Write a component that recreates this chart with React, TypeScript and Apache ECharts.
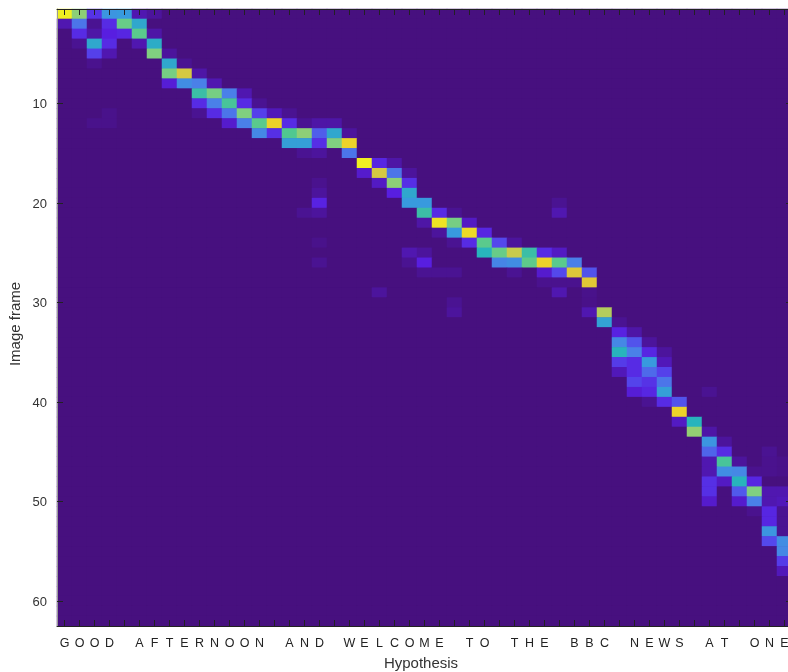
import React, { useEffect, useRef } from "react";
import * as echarts from "echarts";

const hypothesis = "GOOD AFTERNOON AND WELCOME TO THE BBC NEWS AT ONE".split("");
const frames = Array.from({ length: 62 }, (_, i) => String(i + 1));
const labelledFrames = ["10", "20", "30", "40", "50", "60"];

// [frame, first column, values from that column onwards]
const attentionRuns: [number, number, number[]][] = [
  [1, 0, [1.0, 0.72, 0.15, 0.38, 0.4, 0.05, 0.03]],
  [2, 0, [0.05, 0.28, 0.02, 0.13, 0.65, 0.45]],
  [3, 1, [0.13, 0.04, 0.1, 0.12, 0.62, 0.04]],
  [4, 1, [0.02, 0.45, 0.13, 0, 0.05, 0.47]],
  [5, 2, [0.18, 0.05, 0, 0, 0.7, 0.03]],
  [6, 2, [0.015, 0, 0, 0, 0, 0.45, 0.02]],
  [7, 7, [0.68, 0.85, 0.04]],
  [8, 7, [0.09, 0.35, 0.3, 0.05]],
  [9, 9, [0.55, 0.68, 0.3, 0.05]],
  [10, 9, [0.13, 0.3, 0.58, 0.13, 0.02]],
  [11, 3, [0.012, 0, 0, 0, 0, 0, 0.02, 0.13, 0.28, 0.7, 0.18, 0.06, 0.02]],
  [12, 2, [0.012, 0.012, 0, 0, 0, 0, 0, 0, 0, 0.08, 0.3, 0.62, 0.93, 0.13, 0.02, 0.04, 0.04]],
  [13, 13, [0.33, 0.14, 0.6, 0.72, 0.24, 0.45, 0.03]],
  [14, 15, [0.42, 0.42, 0.14, 0.7, 0.93]],
  [15, 16, [0.02, 0.03, 0, 0.28]],
  [16, 20, [1.0, 0.12, 0.04]],
  [17, 20, [0.08, 0.85, 0.28, 0.03]],
  [18, 17, [0.015, 0, 0, 0, 0.07, 0.72, 0.14]],
  [19, 17, [0.03, 0, 0, 0, 0, 0.1, 0.45]],
  [20, 17, [0.11, 0, 0, 0, 0, 0, 0.4, 0.4]],
  [20, 33, [0.02]],
  [21, 16, [0.02, 0.03, 0, 0, 0, 0, 0, 0, 0.55, 0.13, 0.02]],
  [21, 33, [0.05]],
  [22, 24, [0.04, 0.97, 0.68, 0.07]],
  [23, 25, [0.03, 0.4, 0.95, 0.12]],
  [24, 17, [0.012]],
  [24, 26, [0.02, 0.13, 0.62, 0.2, 0.03]],
  [25, 23, [0.05, 0.03, 0, 0, 0, 0.5, 0.65, 0.82, 0.55, 0.13, 0.07]],
  [26, 17, [0.02]],
  [26, 23, [0.02, 0.1, 0, 0, 0, 0, 0.32, 0.35, 0.63, 0.93, 0.62, 0.3]],
  [27, 24, [0.02, 0.02, 0.02, 0, 0, 0, 0.02, 0, 0.08, 0.2, 0.87, 0.22]],
  [28, 32, [0.015, 0.015, 0.015, 0.88]],
  [29, 21, [0.03]],
  [29, 33, [0.05, 0, 0.012]],
  [30, 26, [0.02]],
  [30, 35, [0.01]],
  [31, 26, [0.03]],
  [31, 35, [0.05, 0.78]],
  [32, 36, [0.43, 0.02]],
  [33, 37, [0.11, 0.04]],
  [34, 37, [0.33, 0.22, 0.03]],
  [35, 37, [0.5, 0.3, 0.12, 0.03]],
  [36, 37, [0.17, 0.13, 0.4, 0.06]],
  [37, 37, [0.06, 0.13, 0.26, 0.18]],
  [38, 38, [0.19, 0.15, 0.28]],
  [39, 38, [0.09, 0.12, 0.42, 0, 0, 0.02]],
  [40, 39, [0.02, 0.13, 0.22]],
  [41, 41, [0.93]],
  [42, 41, [0.07, 0.5]],
  [43, 42, [0.73, 0.04]],
  [44, 43, [0.38, 0.03]],
  [45, 43, [0.25, 0.13, 0, 0, 0.02]],
  [46, 43, [0.05, 0.58, 0.03, 0, 0.015, 0.01]],
  [47, 43, [0.05, 0.35, 0.33, 0.015, 0.015, 0.01]],
  [48, 43, [0.14, 0.07, 0.5, 0.12]],
  [49, 43, [0.14, 0, 0.23, 0.7, 0.05, 0.05]],
  [50, 43, [0.08, 0, 0.08, 0.3, 0.05, 0.06]],
  [51, 46, [0.015, 0.12, 0.02]],
  [52, 47, [0.12, 0.02]],
  [53, 47, [0.38, 0.02]],
  [54, 47, [0.2, 0.35]],
  [55, 48, [0.33]],
  [56, 48, [0.17]],
  [57, 48, [0.06]],
];

const colourStops = [
  "#47107f", "#581ee0", "#5448ec", "#4a80e8", "#389ade", "#28b4bc",
  "#50c890", "#80d080", "#c0cc54", "#eac62e", "#f0f020",
];

function buildCells(): [number, number, number][] {
  const grid = frames.map(() => hypothesis.map(() => 0));
  attentionRuns.forEach(([frame, col, vals]) => {
    vals.forEach((v, k) => {
      if (v > 0) grid[frame - 1][col + k] = v;
    });
  });
  const cells: [number, number, number][] = [];
  grid.forEach((row, r) => row.forEach((v, c) => cells.push([c, r, v])));
  return cells;
}

export default function App() {
  const ref = useRef<HTMLDivElement>(null);
  useEffect(() => {
    const chart = echarts.init(ref.current!, undefined, { renderer: "svg" });
    const font = "'Liberation Sans', Arial, sans-serif";
    const isLabelled = (_: number, v: string) => labelledFrames.includes(v);
    const tick = { inside: true, alignWithLabel: true, length: 6, lineStyle: { color: "#222", width: 1 } };
    chart.setOption({
      animation: false,
      backgroundColor: "#ffffff",
      grid: {
        left: 57,
        top: 9,
        width: 735,
        height: 617,
        show: true,
        backgroundColor: colourStops[0],
        borderWidth: 0,
        outerBoundsMode: "none",
        containLabel: false,
      },
      visualMap: {
        show: false,
        min: 0,
        max: 1,
        seriesIndex: 0,
        inRange: { color: colourStops },
      },
      xAxis: [
        {
          type: "category",
          data: hypothesis,
          position: "bottom",
          z: 10,
          name: "Hypothesis",
          nameLocation: "middle",
          nameGap: 29,
          nameTextStyle: { color: "#333", fontFamily: font, fontSize: 15, padding: [0, 7, 0, 0] },
          axisLine: { show: true, onZero: false, lineStyle: { color: "#222", width: 1 } },
          axisTick: { ...tick, show: true, interval: 0 },
          axisLabel: { interval: 0, color: "#222", fontFamily: font, fontSize: 12.5, margin: 10 },
          splitLine: { show: false },
        },
        {
          type: "category",
          data: hypothesis,
          position: "top",
          z: 10,
          axisLine: { show: true, onZero: false, lineStyle: { color: "#222", width: 1 } },
          axisTick: { ...tick, show: true, interval: 0 },
          axisLabel: { show: false },
          splitLine: { show: false },
        },
      ],
      yAxis: [
        {
          type: "category",
          data: frames,
          inverse: true,
          position: "left",
          z: 10,
          name: "Image frame",
          nameLocation: "middle",
          nameGap: 26,
          nameTextStyle: { color: "#333", fontFamily: font, fontSize: 15, padding: [0, 13, 0, 0] },
          axisLine: { show: true, onZero: false, lineStyle: { color: "#999", width: 1 } },
          axisTick: { ...tick, show: true, interval: isLabelled },
          axisLabel: { interval: isLabelled, color: "#333", fontFamily: font, fontSize: 13, margin: 10 },
          splitLine: { show: false },
        },
        {
          type: "category",
          data: frames,
          inverse: true,
          position: "right",
          z: 10,
          axisLine: { show: false },
          axisTick: { ...tick, show: true, interval: isLabelled },
          axisLabel: { show: false },
          splitLine: { show: false },
        },
      ],
      series: [
        {
          type: "heatmap",
          xAxisIndex: 0,
          yAxisIndex: 0,
          z: 1,
          data: buildCells(),
          progressive: 0,
          itemStyle: { borderWidth: 0 },
          emphasis: { disabled: true },
        },
      ],
    });
    return () => chart.dispose();
  }, []);
  return (
    <div style={{ position: "absolute", left: 0, top: 0, width: 788, height: 672, overflow: "hidden", background: "#fff" }}>
      <div ref={ref} style={{ width: 800, height: 672, filter: "blur(0.5px)" }} />
    </div>
  );
}
